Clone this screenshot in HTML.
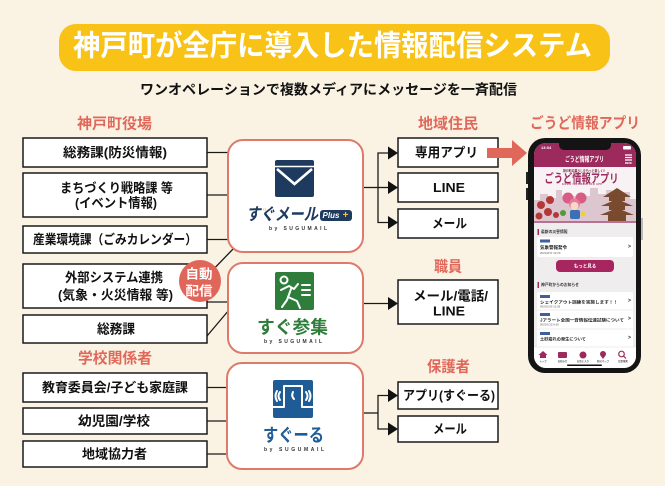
<!DOCTYPE html>
<html><head><meta charset="utf-8">
<style>
html,body{margin:0;padding:0;background:#FAF3E3;}
svg{display:block;}
text{font-family:"Liberation Sans","Noto Sans CJK JP",sans-serif;font-weight:bold;}
</style></head>
<body>
<svg width="665" height="486" viewBox="0 0 665 486" xmlns="http://www.w3.org/2000/svg">
<defs>
<clipPath id="scr"><rect x="534" y="143" width="102" height="225" rx="12"/></clipPath>
</defs>
<rect x="0" y="0" width="665" height="486" fill="#FAF3E3"/>

<!-- Title -->
<rect x="59" y="24" width="551" height="47" rx="17" fill="#F8C217"/>
<text x="332.5" y="46.5" font-size="29" fill="#fff" text-anchor="middle" dominant-baseline="central" textLength="519" lengthAdjust="spacingAndGlyphs">神戸町が全庁に導入した情報配信システム</text>
<text x="328.5" y="89.5" font-size="14" fill="#111" text-anchor="middle" dominant-baseline="central" textLength="377" lengthAdjust="spacingAndGlyphs">ワンオペレーションで複数メディアにメッセージを一斉配信</text>

<!-- Headings -->
<g fill="#E0685A" font-size="15" text-anchor="middle" dominant-baseline="central">
<text x="114.5" y="124" textLength="75" lengthAdjust="spacingAndGlyphs">神戸町役場</text>
<text x="115" y="358.5" textLength="74" lengthAdjust="spacingAndGlyphs">学校関係者</text>
<text x="448" y="124" textLength="60" lengthAdjust="spacingAndGlyphs">地域住民</text>
<text x="448" y="267" textLength="28" lengthAdjust="spacingAndGlyphs">職員</text>
<text x="448.5" y="367" textLength="43" lengthAdjust="spacingAndGlyphs">保護者</text>
<text x="585" y="123.5" textLength="110" lengthAdjust="spacingAndGlyphs">ごうど情報アプリ</text>
</g>

<!-- Connector lines -->
<g stroke="#1a1a1a" stroke-width="1.3" fill="none">
<line x1="207" y1="152.5" x2="229" y2="152.5"/>
<line x1="207" y1="195" x2="229" y2="195"/>
<line x1="207" y1="239.5" x2="229" y2="239.5"/>
<line x1="205" y1="278" x2="235" y2="247"/>
<line x1="207" y1="302" x2="229" y2="302"/>
<line x1="207" y1="336" x2="229" y2="310"/>
<line x1="207" y1="387.5" x2="228" y2="387.5"/>
<line x1="207" y1="421" x2="228" y2="421"/>
<line x1="207" y1="454" x2="228" y2="454"/>
<!-- right side -->
<line x1="363" y1="187.5" x2="378" y2="187.5"/>
<polyline points="390,153 378,153 378,222.5 390,222.5"/>
<line x1="378" y1="187.5" x2="390" y2="187.5"/>
<line x1="363" y1="303.5" x2="390" y2="303.5"/>
<line x1="363" y1="413" x2="378" y2="413"/>
<polyline points="390,395.5 378,395.5 378,429 390,429"/>
</g>
<g fill="#111">
<polygon points="388,146.5 398,153 388,159.5"/>
<polygon points="388,181 398,187.5 388,194"/>
<polygon points="388,216 398,222.5 388,229"/>
<polygon points="388,297 398,303.5 388,310"/>
<polygon points="388,389 398,395.5 388,402"/>
<polygon points="388,422.5 398,429 388,435.5"/>
</g>

<!-- Left boxes -->
<g fill="#fff" stroke="#1a1a1a" stroke-width="1.5">
<rect x="23" y="138" width="184" height="29"/>
<rect x="23" y="173" width="184" height="44"/>
<rect x="23" y="226" width="184" height="27"/>
<rect x="23" y="264" width="184" height="44"/>
<rect x="23" y="315" width="184" height="28"/>
<rect x="23" y="373" width="184" height="29"/>
<rect x="23" y="408" width="184" height="26"/>
<rect x="23" y="441" width="184" height="26"/>
</g>
<g fill="#111" font-size="13" text-anchor="middle" dominant-baseline="central">
<text x="115" y="152.5" textLength="104" lengthAdjust="spacingAndGlyphs">総務課(防災情報)</text>
<text x="116.5" y="188" textLength="113" lengthAdjust="spacingAndGlyphs">まちづくり戦略課 等</text>
<text x="116" y="203" textLength="82" lengthAdjust="spacingAndGlyphs">(イベント情報)</text>
<text x="115" y="239.5" textLength="164" lengthAdjust="spacingAndGlyphs">産業環境課（ごみカレンダー）</text>
<text x="114" y="277.5" textLength="98" lengthAdjust="spacingAndGlyphs">外部システム連携</text>
<text x="115.5" y="295" textLength="115" lengthAdjust="spacingAndGlyphs">(気象・火災情報 等)</text>
<text x="116" y="329" textLength="38" lengthAdjust="spacingAndGlyphs">総務課</text>
<text x="115" y="387.5" textLength="146" lengthAdjust="spacingAndGlyphs">教育委員会/子ども家庭課</text>
<text x="114" y="421" textLength="72" lengthAdjust="spacingAndGlyphs">幼児園/学校</text>
<text x="114.5" y="454" textLength="65" lengthAdjust="spacingAndGlyphs">地域協力者</text>
</g>

<!-- 自動配信 circle -->
<circle cx="200" cy="281" r="21" fill="#E0665A"/>
<g fill="#fff" font-size="13" text-anchor="middle" dominant-baseline="central">
<text x="199" y="274" textLength="27" lengthAdjust="spacingAndGlyphs">自動</text>
<text x="199" y="291" textLength="27" lengthAdjust="spacingAndGlyphs">配信</text>
</g>

<!-- Right boxes -->
<g fill="#fff" stroke="#1a1a1a" stroke-width="1.5">
<rect x="398" y="138" width="100" height="29"/>
<rect x="398" y="173" width="100" height="29"/>
<rect x="398" y="209" width="100" height="29"/>
<rect x="398" y="280" width="100" height="44"/>
<rect x="398" y="382" width="100" height="27"/>
<rect x="398" y="416" width="100" height="26"/>
</g>
<g fill="#111" font-size="13" text-anchor="middle" dominant-baseline="central">
<text x="446.5" y="152.5" textLength="63" lengthAdjust="spacingAndGlyphs">専用アプリ</text>
<text x="449" y="187.5" textLength="32" lengthAdjust="spacingAndGlyphs">LINE</text>
<text x="449.5" y="223.5" textLength="35" lengthAdjust="spacingAndGlyphs">メール</text>
<text x="450.5" y="296" textLength="75" lengthAdjust="spacingAndGlyphs">メール/電話/</text>
<text x="449" y="311" textLength="32" lengthAdjust="spacingAndGlyphs">LINE</text>
<text x="449" y="395.5" textLength="92" lengthAdjust="spacingAndGlyphs">アプリ(すぐーる)</text>
<text x="450" y="429" textLength="34" lengthAdjust="spacingAndGlyphs">メール</text>
</g>

<!-- Red arrow -->
<polygon points="487,148 512,148 512,140 527,153 512,166 512,158 487,158" fill="#E0685A"/>

<!-- Center boxes -->
<g fill="#fff" stroke="#DD7A6C" stroke-width="2">
<rect x="228" y="140" width="135" height="112" rx="15"/>
<rect x="228" y="263" width="135" height="90" rx="15"/>
<rect x="227" y="363" width="136" height="106" rx="15"/>
</g>

<!-- Logo A: すぐメール Plus -->
<rect x="275" y="160" width="39" height="37" rx="2" fill="#1E3A5F"/>
<line x1="275" y1="166.5" x2="314" y2="166.5" stroke="#fff" stroke-width="1.6"/>
<polyline points="277,169 294.5,184 312,169" fill="none" stroke="#fff" stroke-width="2.6"/>
<text x="282" y="214.5" font-size="17" fill="#1E3A5F" font-style="italic" text-anchor="middle" dominant-baseline="central" textLength="72" lengthAdjust="spacingAndGlyphs">すぐメール</text>
<text x="263" y="211" font-size="5" fill="#E8B21E">&#8249;&#8249;</text>
<rect x="320" y="210" width="32" height="11" rx="3" fill="#1E3A5F"/>
<text x="331" y="215.5" font-size="8" fill="#fff" font-style="italic" text-anchor="middle" dominant-baseline="central" textLength="17" lengthAdjust="spacingAndGlyphs">Plus</text>
<text x="345.5" y="215.5" font-size="10" fill="#F2C230" text-anchor="middle" dominant-baseline="central">+</text>
<text x="298" y="229" font-size="5" fill="#333" text-anchor="middle" dominant-baseline="central" textLength="58" lengthAdjust="spacing">by SUGUMAIL</text>

<!-- Logo B: すぐ参集 -->
<rect x="275" y="272" width="39" height="38" rx="2" fill="#2F7D3B"/>
<g fill="none" stroke="#fff" stroke-width="2" stroke-linecap="round" stroke-linejoin="round">
<circle cx="284" cy="280" r="3.5"/>
<path d="M281,290 L289,286 L294,289 L298,284"/>
<path d="M291,289 L287,300 L282,307"/>
<path d="M288,297 L297,301 L300,308"/>
<path d="M302,285 L310,285 M302,290 L310,290 M302,295 L310,295"/>
</g>
<text x="292.5" y="327.5" font-size="18" fill="#2F7D3B" text-anchor="middle" dominant-baseline="central" textLength="71" lengthAdjust="spacingAndGlyphs">すぐ参集</text>
<text x="293" y="342" font-size="5" fill="#333" text-anchor="middle" dominant-baseline="central" textLength="58" lengthAdjust="spacing">by SUGUMAIL</text>

<!-- Logo C: すぐーる -->
<rect x="273" y="380" width="40" height="38" rx="2" fill="#1F5C96"/>
<g fill="none" stroke="#fff" stroke-width="2" stroke-linecap="round" stroke-linejoin="round">
<polyline points="273,407 284,407 284,386 302,386 302,407 313,407"/>
<path d="M293,392 Q291,396 294,399"/>
<path d="M280,392 Q277,396 280,400"/>
<path d="M277,391 Q274,396 277,401"/>
<path d="M306,392 Q309,396 306,400"/>
<path d="M309,391 Q312,396 309,401"/>
</g>
<text x="293.5" y="435.5" font-size="18" fill="#1F5C96" text-anchor="middle" dominant-baseline="central" textLength="61" lengthAdjust="spacingAndGlyphs">すぐーる</text>
<text x="294" y="450" font-size="5" fill="#333" text-anchor="middle" dominant-baseline="central" textLength="60" lengthAdjust="spacing">by SUGUMAIL</text>

<!-- Phone -->
<rect x="526" y="172" width="3" height="12" fill="#222"/>
<rect x="526" y="188" width="3" height="12" fill="#222"/>
<rect x="640" y="218" width="3" height="22" fill="#bbb"/>
<rect x="528" y="138" width="113" height="235" rx="17" fill="#141414"/>
<g clip-path="url(#scr)">
<rect x="534" y="143" width="102" height="225" fill="#EFEDEE"/>
<rect x="534" y="143" width="102" height="24" fill="#9C2A5C"/>
<text x="541" y="149" font-size="4" fill="#fff">13:04</text>
<rect x="623" y="146" width="8" height="3.5" rx="1" fill="#fff"/>
<rect x="559" y="139" width="52" height="11" rx="5" fill="#141414"/>
<text x="584.5" y="160" font-size="7" fill="#fff" text-anchor="middle" dominant-baseline="central" textLength="39" lengthAdjust="spacingAndGlyphs">ごうど情報アプリ</text>
<g stroke="#fff" stroke-width="1.2"><line x1="625" y1="155" x2="632" y2="155"/><line x1="625" y1="157.5" x2="632" y2="157.5"/><line x1="625" y1="160" x2="632" y2="160"/></g>
<text x="628.5" y="164" font-size="2.5" fill="#fff" text-anchor="middle">MENU</text>
<!-- banner -->
<rect x="534" y="167" width="102" height="56" fill="#F8F2F4"/>
<path d="M534,223 L534,200 L540,200 L540,194 L548,194 L548,198 L556,198 L556,190 L562,190 L562,196 L590,196 L590,188 L598,188 L598,194 L606,194 L606,190 L612,190 L612,197 L622,197 L622,192 L630,192 L630,199 L636,199 L636,223 Z" fill="#DCC6D0"/>
<text x="584" y="171" font-size="3.6" fill="#7A2447" text-anchor="middle" dominant-baseline="central" textLength="42" lengthAdjust="spacingAndGlyphs">神戸町の暮らしをもっと楽しく!!</text>
<text x="581.5" y="178.5" font-size="12" fill="#9C2A5C" text-anchor="middle" dominant-baseline="central" textLength="74" lengthAdjust="spacingAndGlyphs">ごうど情報アプリ</text>
<text x="582" y="185" font-size="2.4" fill="#9C2A5C" text-anchor="middle" textLength="40" lengthAdjust="spacing">GODO INFORMATION APP</text>
<!-- pagoda -->
<g fill="#7A4A2E">
<polygon points="617,188 603,197 631,197"/>
<rect x="609" y="197" width="16" height="4"/>
<polygon points="617,199 601,206 633,206"/>
<rect x="609" y="206" width="16" height="4"/>
<polygon points="617,208 600,215 634,215"/>
<rect x="608" y="215" width="18" height="8"/>
</g>
<!-- character -->
<circle cx="568" cy="198" r="5.5" fill="#D85C84"/>
<circle cx="581" cy="198" r="5.5" fill="#D85C84"/>
<circle cx="574.5" cy="204" r="5.5" fill="#E57BA0"/>
<circle cx="574.5" cy="206" r="4" fill="#F7D9C6"/>
<rect x="570" y="210" width="10" height="9" rx="2" fill="#3C6FB5"/>
<circle cx="563" cy="213" r="3" fill="#4E9A3C"/>
<circle cx="583" cy="214" r="2.5" fill="#F2D034"/>
<!-- roses -->
<g fill="#B43838">
<circle cx="541" cy="205" r="4"/>
<circle cx="550" cy="200" r="4"/>
<circle cx="548" cy="212" r="4"/>
<circle cx="539" cy="216" r="3.5"/>
<circle cx="556" cy="215" r="3"/>
</g>
<rect x="534" y="221" width="102" height="2" fill="#B9728F"/>
<!-- content -->
<rect x="537.5" y="229" width="1.5" height="6" fill="#9C2A5C"/>
<text x="541" y="232" font-size="3.8" fill="#333" dominant-baseline="central">最新の災害情報</text>
<rect x="537" y="237" width="96" height="20" rx="2" fill="#fff"/>
<rect x="540" y="239.5" width="10" height="3" fill="#3F5E9C"/>
<text x="540" y="247.5" font-size="4.5" fill="#222" dominant-baseline="central">気象警報発令</text>
<text x="540" y="253" font-size="2.8" fill="#888" dominant-baseline="central">2021/2/17 10:20</text>
<text x="628" y="247" font-size="5" fill="#222" dominant-baseline="central">&gt;</text>
<rect x="556" y="260" width="58" height="12" rx="4" fill="#A8265F"/>
<text x="585" y="266" font-size="4.5" fill="#fff" text-anchor="middle" dominant-baseline="central">もっと見る</text>
<rect x="537.5" y="282" width="1.5" height="6" fill="#9C2A5C"/>
<text x="541" y="285" font-size="3.8" fill="#333" dominant-baseline="central">神戸町からのお知らせ</text>
<rect x="537" y="292" width="96" height="60" rx="2" fill="#fff"/>
<rect x="540" y="295" width="10" height="3" fill="#3F5E9C"/>
<text x="540" y="302" font-size="4.2" fill="#222" dominant-baseline="central" textLength="78" lengthAdjust="spacingAndGlyphs">シェイクアウト訓練を実施します！！</text>
<text x="540" y="306.5" font-size="2.8" fill="#888" dominant-baseline="central">2021/1/20 11:28</text>
<text x="628" y="301" font-size="5" fill="#222" dominant-baseline="central">&gt;</text>
<line x1="537" y1="310" x2="633" y2="310" stroke="#ddd" stroke-width="0.6"/>
<rect x="540" y="313" width="10" height="3" fill="#3F5E9C"/>
<text x="540" y="320" font-size="4.2" fill="#222" dominant-baseline="central" textLength="84" lengthAdjust="spacingAndGlyphs">Jアラート全国一斉情報伝達試験について</text>
<text x="540" y="324.5" font-size="2.8" fill="#888" dominant-baseline="central">2021/1/13 9:20</text>
<text x="628" y="319" font-size="5" fill="#222" dominant-baseline="central">&gt;</text>
<line x1="537" y1="329" x2="633" y2="329" stroke="#ddd" stroke-width="0.6"/>
<rect x="540" y="332" width="10" height="3" fill="#3F5E9C"/>
<text x="540" y="339" font-size="4.2" fill="#222" dominant-baseline="central">土砂崩れの発生について</text>
<text x="628" y="338" font-size="5" fill="#222" dominant-baseline="central">&gt;</text>
<!-- nav -->
<rect x="534" y="347" width="102" height="21" fill="#fff"/>
<line x1="534" y1="347" x2="636" y2="347" stroke="#ddd" stroke-width="0.6"/>
<g fill="#9C2A5C">
<polygon points="543,351 538.5,355 540,355 540,358 546,358 546,355 547.5,355"/>
<rect x="558" y="352" width="9" height="6" rx="1"/>
<circle cx="583" cy="355" r="3.5"/>
<circle cx="603" cy="354" r="3"/>
<polygon points="600.5,355.5 605.5,355.5 603,359"/>
<circle cx="621.5" cy="354" r="2.8" fill="none" stroke="#9C2A5C" stroke-width="1.2"/>
<line x1="623.5" y1="356" x2="626" y2="358.5" stroke="#9C2A5C" stroke-width="1.2"/>
</g>
<g font-size="2.4" fill="#555" text-anchor="middle">
<text x="543" y="362">トップ</text>
<text x="562.5" y="362">お知らせ</text>
<text x="583" y="362">お気に入り</text>
<text x="603" y="362">防災マップ</text>
<text x="623" y="362">記事検索</text>
</g>
<rect x="567" y="364.5" width="35" height="1.5" rx="0.7" fill="#111"/>
</g>
</svg>
</body></html>
